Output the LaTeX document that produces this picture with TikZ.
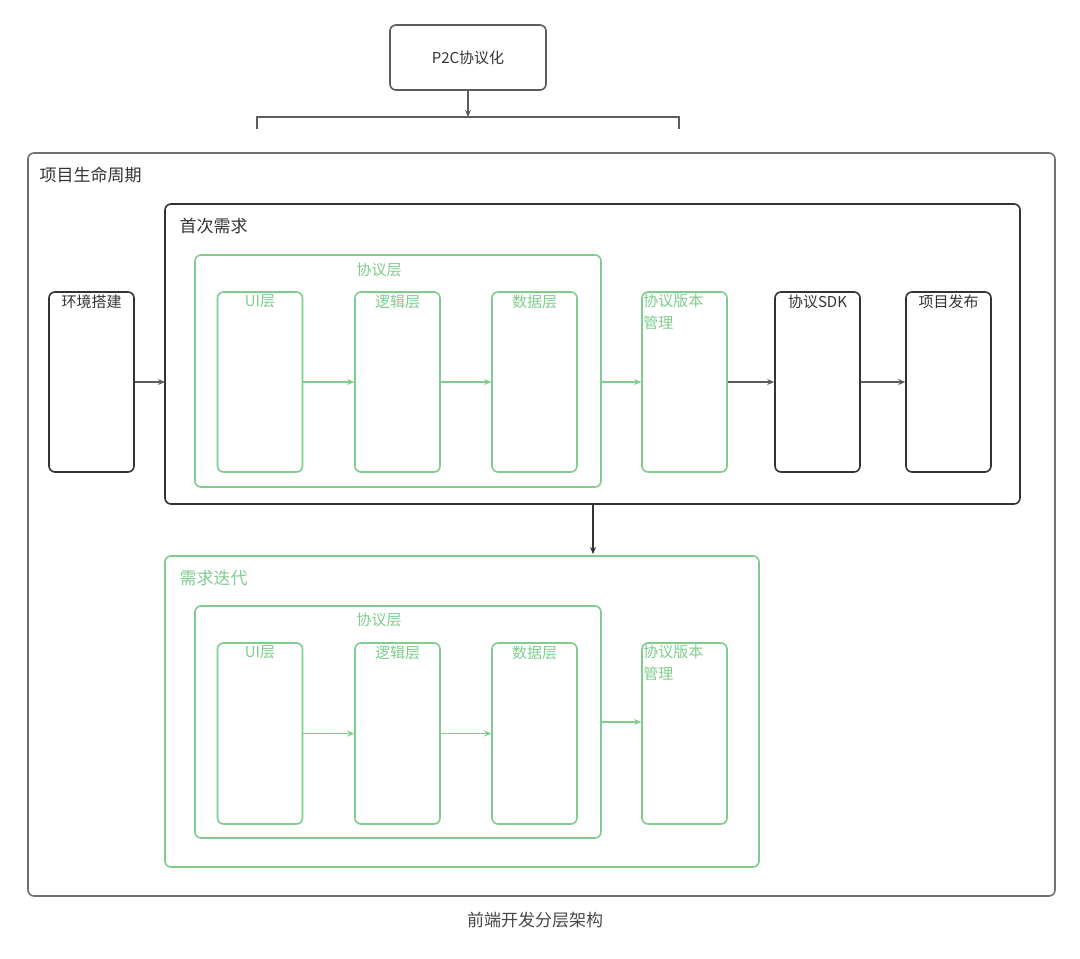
\documentclass[tikz,border=0pt]{standalone}
\usepackage{fontspec}
\setmainfont{Noto Sans CJK SC}
\usetikzlibrary{arrows.meta}
\definecolor{grn}{HTML}{7FCC8C}
\definecolor{drk}{HTML}{333333}
\tikzset{
  box/.style={draw=drk, line width=1.6pt, rounded corners=6pt},
  gbox/.style={draw=grn, line width=1.6pt, rounded corners=6pt},
  lbl/.style={font=\fontsize{17}{20}\selectfont, text=drk},
  glbl/.style={font=\fontsize{15}{18}\selectfont, text=grn},
  blbl/.style={font=\fontsize{15}{18}\selectfont, text=drk},
  arr/.style={-{Stealth[length=7pt,width=6pt]}, line width=1.2pt, draw=drk!80},
  garr/.style={-{Stealth[length=7pt,width=6pt]}, line width=1.2pt, draw=grn},
}
\begin{document}
\begin{tikzpicture}[x=1pt,y=-1pt]
\useasboundingbox (0,0) rectangle (1080,959);
% top
\node[box, draw=drk!80, minimum width=156pt, minimum height=65pt, font=\fontsize{15}{18}\selectfont, text=drk] (p2c) at (468,57.5) {P2C协议化};
\coordinate (brk) at (468,117);
\draw[arr] (p2c.south) -- (brk);
\draw[line width=1.4pt, draw=drk!80] (257,129) -- (257,117) -- (679,117) -- (679,129);
% outer frames
\draw[box, draw=drk!70] (28,153) rectangle (1055,896);
\node[lbl, anchor=west] (life) at (36,175) {项目生命周期};
\draw[box] (165,204) rectangle (1020,504);
\node[lbl, anchor=west] (first) at (176,226) {首次需求};
\draw[gbox] (165,556) rectangle (759,867);
\node[lbl, text=grn, anchor=west] (iter) at (176,578) {需求迭代};
% first requirement
\node[box, minimum width=85pt, minimum height=180pt] (env) at (91.5,382) {};
\node[blbl, anchor=north] at (env.north) {环境搭建};
\draw[gbox] (195,255) rectangle (601,487);
\node[glbl] (proto) at (379,270) {协议层};
\foreach \n/\x/\t in {ui/260/UI层, logic/397.5/逻辑层, data/534.5/数据层}{
  \node[gbox, minimum width=85pt, minimum height=180pt] (\n) at (\x,382) {};
  \node[glbl, anchor=north] at (\n.north) {\t};
}
\node[gbox, minimum width=85pt, minimum height=180pt] (ver) at (684.5,382) {};
\node[glbl, anchor=north west, align=left, inner sep=2pt] at (ver.north west) {协议版本\\[4pt]管理};
\node[box, minimum width=85pt, minimum height=180pt] (sdk) at (817.5,382) {};
\node[blbl, anchor=north] at (sdk.north) {协议SDK};
\node[box, minimum width=85pt, minimum height=180pt] (pub) at (948.5,382) {};
\node[blbl, anchor=north] at (pub.north) {项目发布};
\coordinate (fl) at (165,382);
\coordinate (pr) at (601,382);
\draw[arr] (env.east) -- (fl);
\draw[garr] (ui) -- (logic);
\draw[garr] (logic) -- (data);
\draw[garr] (pr) -- (ver);
\draw[arr] (ver) -- (sdk);
\draw[arr] (sdk) -- (pub);
\coordinate (fb) at (593,504);
\coordinate (it) at (593,554);
\draw[arr, draw=drk] (fb) -- (it);
% iteration
\draw[gbox] (195,606) rectangle (601,838);
\node[glbl] (proto2) at (379,620) {协议层};
\foreach \n/\x/\t in {ui2/260/UI层, logic2/397.5/逻辑层, data2/534.5/数据层}{
  \node[gbox, minimum width=85pt, minimum height=181pt] (\n) at (\x,733.5) {};
  \node[glbl, anchor=north] at (\n.north) {\t};
}
\node[gbox, minimum width=85pt, minimum height=181pt] (ver2) at (684.5,733.5) {};
\node[glbl, anchor=north west, align=left, inner sep=2pt] at (ver2.north west) {协议版本\\[4pt]管理};
\coordinate (pr2) at (601,722);
\draw[garr] (ui2) -- (logic2);
\draw[garr] (logic2) -- (data2);
\draw[garr] (pr2) -- (ver2.west |- pr2);
% caption
\node[lbl, text=drk!90] (cap) at (535,920) {前端开发分层架构};
\end{tikzpicture}
\end{document}
